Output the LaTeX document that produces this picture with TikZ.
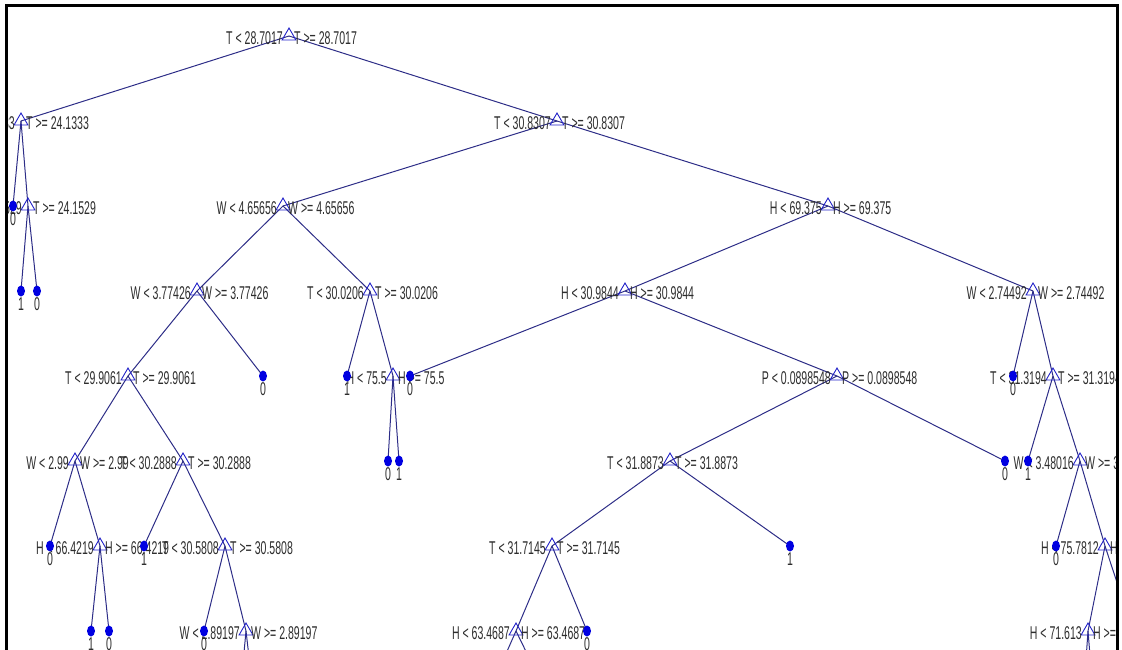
\documentclass[tikz,border=0pt]{standalone}
\usepackage{fontspec}
\newfontfamily\tf[FakeStretch=0.57]{Liberation Sans}
\usetikzlibrary{shapes.geometric}
\pgfdeclarelayer{bg}
\pgfsetlayers{bg,main}
\definecolor{edgecol}{RGB}{45,45,135}
\definecolor{tricol}{RGB}{35,35,200}
\definecolor{dotcol}{RGB}{0,0,225}
\definecolor{txtcol}{RGB}{45,45,45}
\tikzset{
  tri/.style={regular polygon, regular polygon sides=3, minimum size=16pt, inner sep=0pt, draw=tricol, line width=0.9pt},
  dotleaf/.style={ellipse, fill=dotcol, minimum width=8pt, minimum height=11pt, inner sep=0pt},
  lbl/.style={inner sep=0pt, text=txtcol, font=\tf\fontsize{18.5}{18.5}\selectfont},
  edge/.style={draw=edgecol, line width=1pt},
  frame/.style={draw=black, line width=3pt}
}
\newcommand{\decnode}[5]{%
  \node[tri] (#1) at (#2,#3) {};
  \node[lbl, anchor=east] (#1-l) at (#2-6,#3+2.5) {#4};
  \node[lbl, anchor=west] (#1-r) at (#2+5,#3+2.5) {#5};
}
\newcommand{\leafnode}[4]{%
  \node[dotleaf] (#1) at (#2,#3) {};
  \node[lbl] (#1-c) at (#2,#3+13) {#4};
}
\begin{document}
\begin{tikzpicture}[x=1pt,y=-1pt]
\useasboundingbox (0,0) rectangle (1122,650);
\begin{scope}
\clip (8,7) rectangle (1116,650);
% decision nodes
\decnode{root}{289}{36}{T < 28.7017}{T >= 28.7017}
\decnode{A}{21}{121}{T < 24.1333}{T >= 24.1333}
\decnode{B}{28}{206}{T < 24.1529}{T >= 24.1529}
\decnode{C}{557}{121}{T < 30.8307}{T >= 30.8307}
\decnode{D}{283}{206}{W < 4.65656}{W >= 4.65656}
\decnode{E}{197}{291}{W < 3.77426}{W >= 3.77426}
\decnode{F}{128}{376}{T < 29.9061}{T >= 29.9061}
\decnode{G}{75}{461}{W < 2.99}{W >= 2.99}
\decnode{H}{100}{546}{H < 66.4219}{H >= 66.4219}
\decnode{I}{183}{461}{T < 30.2888}{T >= 30.2888}
\decnode{J}{225}{546}{T < 30.5808}{T >= 30.5808}
\decnode{K}{246}{631}{W < 2.89197}{W >= 2.89197}
\decnode{L}{370}{291}{T < 30.0206}{T >= 30.0206}
\decnode{M}{393}{376}{H < 75.5}{H >= 75.5}
\decnode{N}{828}{206}{H < 69.375}{H >= 69.375}
\decnode{O}{625}{291}{H < 30.9844}{H >= 30.9844}
\decnode{P}{837}{376}{P < 0.0898548}{P >= 0.0898548}
\decnode{Q}{670}{461}{T < 31.8873}{T >= 31.8873}
\decnode{R}{552}{546}{T < 31.7145}{T >= 31.7145}
\decnode{S}{516}{631}{H < 63.4687}{H >= 63.4687}
\decnode{T}{1033}{291}{W < 2.74492}{W >= 2.74492}
\decnode{U}{1053}{376}{T < 31.3194}{T >= 31.3194}
\decnode{V}{1080}{461}{W < 3.48016}{W >= 3.48016}
\decnode{X}{1105}{546}{H < 75.7812}{H >= 75.7812}
\decnode{Y}{1088}{631}{H < 71.613}{H >= 71.613}
% leaves
\leafnode{a0}{13}{206}{0}
\leafnode{b1}{21}{291}{1}
\leafnode{b2}{37}{291}{0}
\leafnode{e2}{263}{376}{0}
\leafnode{g1}{50}{546}{0}
\leafnode{h1}{91}{631}{1}
\leafnode{h2}{109}{631}{0}
\leafnode{i1}{144}{546}{1}
\leafnode{j1}{204}{631}{0}
\leafnode{l1}{347}{376}{1}
\leafnode{m1}{388}{461}{0}
\leafnode{m2}{399}{461}{1}
\leafnode{o1}{410}{376}{0}
\leafnode{r2}{587}{631}{0}
\leafnode{q2}{790}{546}{1}
\leafnode{p2}{1005}{461}{0}
\leafnode{t1}{1013}{376}{0}
\leafnode{u1}{1028}{461}{1}
\leafnode{v1}{1056}{546}{0}
% off-view children
\coordinate (k1) at (238,717);
\coordinate (k2) at (256,717);
\coordinate (s1) at (478,717);
\coordinate (s2) at (558,717);
\coordinate (y1) at (1082,717);
\coordinate (y2) at (1095,717);
\coordinate (x2) at (1133,631);
\end{scope}
\begin{pgfonlayer}{bg}
\clip (8,7) rectangle (1116,650);
\foreach \p/\c in {root/A,root/C,A/a0,A/B,B/b1,B/b2,C/D,C/N,D/E,D/L,E/F,E/e2,
  F/G,F/I,G/g1,G/H,H/h1,H/h2,I/i1,I/J,J/j1,J/K,K/k1,K/k2,L/l1,L/M,M/m1,M/m2,
  N/O,N/T,O/o1,O/P,P/Q,P/p2,Q/R,Q/q2,R/S,R/r2,S/s1,S/s2,T/t1,T/U,U/u1,U/V,
  V/v1,V/X,X/Y,X/x2,Y/y1,Y/y2}
  \draw[edge] (\p.center) -- (\c.center);
\end{pgfonlayer}
% frame
\draw[frame] (6.5,650) -- (6.5,5.5) -- (1117.5,5.5) -- (1117.5,650);
\end{tikzpicture}
\end{document}
